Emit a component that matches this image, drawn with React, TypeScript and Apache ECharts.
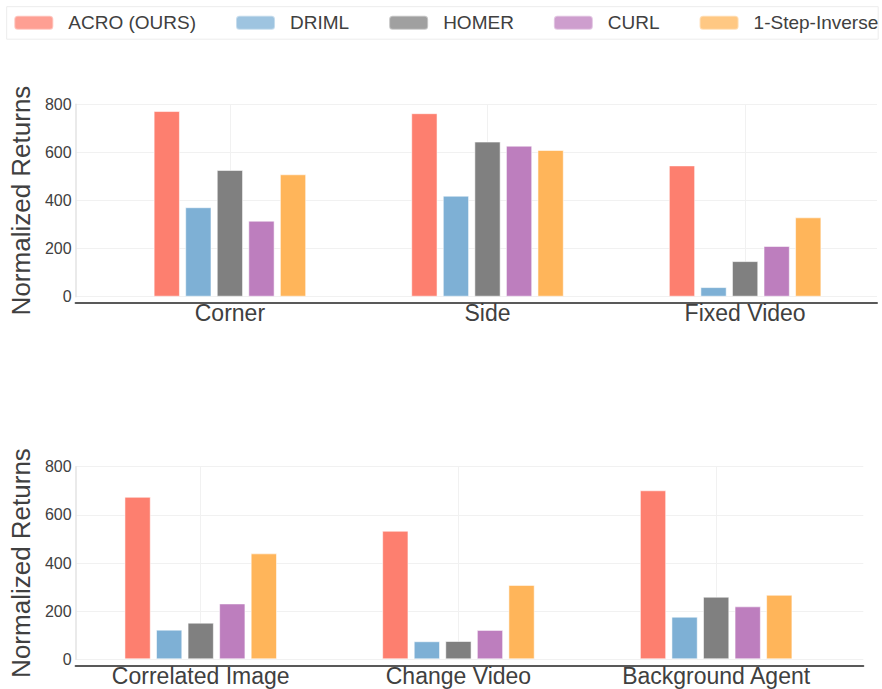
import React, { useEffect, useRef } from "react";
import * as echarts from "echarts";

const seriesNames = ["ACRO (OURS)", "DRIML", "HOMER", "CURL", "1-Step-Inverse"];
const seriesColors = ["#fd7f6f", "#7eb0d5", "#808080", "#bd7ebe", "#ffb55a"];

const topCategories = ["Corner", "Side", "Fixed Video"];
const bottomCategories = ["Correlated Image", "Change Video", "Background Agent"];

const acroTop = [772, 763, 546];
const drimlTop = [372, 420, 40];
const homerTop = [527, 645, 148];
const curlTop = [316, 628, 211];
const inverseTop = [509, 610, 330];

const acroBottom = [675, 534, 702];
const drimlBottom = [123, 75, 177];
const homerBottom = [152, 76, 260];
const curlBottom = [232, 122, 220];
const inverseBottom = [440, 309, 268];

const yTicks = [0, 200, 400, 600, 800];

const FONT = "'Liberation Sans', Arial, Helvetica, sans-serif";

export default function App() {
  const ref = useRef<HTMLDivElement>(null);

  useEffect(() => {
    if (!ref.current) return;
    const chart = echarts.init(ref.current, undefined, { renderer: "svg" });

    const topData = [acroTop, drimlTop, homerTop, curlTop, inverseTop];
    const bottomData = [acroBottom, drimlBottom, homerBottom, curlBottom, inverseBottom];
    const catIdx = [0, 1, 2];

    const makeX = (gridIndex: number, cats: string[], min: number, max: number) => ({
      type: "value",
      gridIndex,
      min,
      max,
      offset: 6,
      axisLine: { show: true, onZero: false, lineStyle: { color: "#595959", width: 2 } },
      axisTick: { show: false, customValues: catIdx },
      axisLabel: {
        customValues: catIdx,
        formatter: (v: number) => cats[Math.round(v)] ?? "",
        fontSize: 23,
        color: "#404040",
        fontFamily: FONT,
        margin: -1,
      },
      splitLine: { show: true, lineStyle: { color: "#f1f1f1", width: 1 } },
    });

    const makeY = (gridIndex: number) => ({
      type: "value",
      gridIndex,
      min: yTicks[0],
      max: yTicks[yTicks.length - 1],
      interval: 200,
      name: "Normalized Returns",
      nameLocation: "middle",
      nameGap: 28,
      nameTextStyle: { fontSize: 26, color: "#404040", fontFamily: FONT },
      axisLine: { show: true, onZero: false, lineStyle: { color: "#e3e3e3", width: 1.5 } },
      axisTick: { show: false },
      axisLabel: { fontSize: 16, color: "#404040", fontFamily: FONT, margin: 4 },
      splitLine: { show: true, lineStyle: { color: "#f1f1f1", width: 1 } },
    });

    const series: any[] = [];
    seriesNames.forEach((name, s) => {
      [topData, bottomData].forEach((dataSet, g) => {
        series.push({
          type: "bar",
          name,
          xAxisIndex: g,
          yAxisIndex: g,
          barWidth: 26.3,
          barGap: "20%",
          itemStyle: {
            color: seriesColors[s],
            borderColor: "rgba(255,255,255,0.55)",
            borderWidth: 1,
          },
          data: catIdx.map((i) => [i, dataSet[s][i]]),
        });
      });
    });

    chart.setOption({
      animation: false,
      backgroundColor: "#ffffff",
      legend: {
        data: seriesNames,
        left: 6.7,
        top: 6.7,
        width: 874,
        padding: [6.5, 0, 7, 6.6],
        itemWidth: 39,
        itemHeight: 14,
        itemGap: 39,
        borderColor: "#ececec",
        borderWidth: 1,
        itemStyle: { opacity: 0.75 },
        textStyle: {
          fontSize: 19,
          color: "#404040",
          fontFamily: FONT,
          padding: [0, 0, 0, 10],
        },
      },
      grid: [
        { left: 71.5, right: 5, top: 104.3, bottom: 689 - 296.7 },
        { left: 70.5, right: 18.7, top: 466.7, bottom: 689 - 659.3 },
      ],
      xAxis: [
        makeX(0, topCategories, -0.599, 2.512),
        makeX(1, bottomCategories, -0.4855, 2.571),
      ],
      yAxis: [makeY(0), makeY(1)],
      series,
    });

    return () => chart.dispose();
  }, []);

  return (
    <div
      ref={ref}
      style={{ position: "fixed", left: 0, top: 0, width: 882, height: 689, background: "#fff" }}
    />
  );
}
